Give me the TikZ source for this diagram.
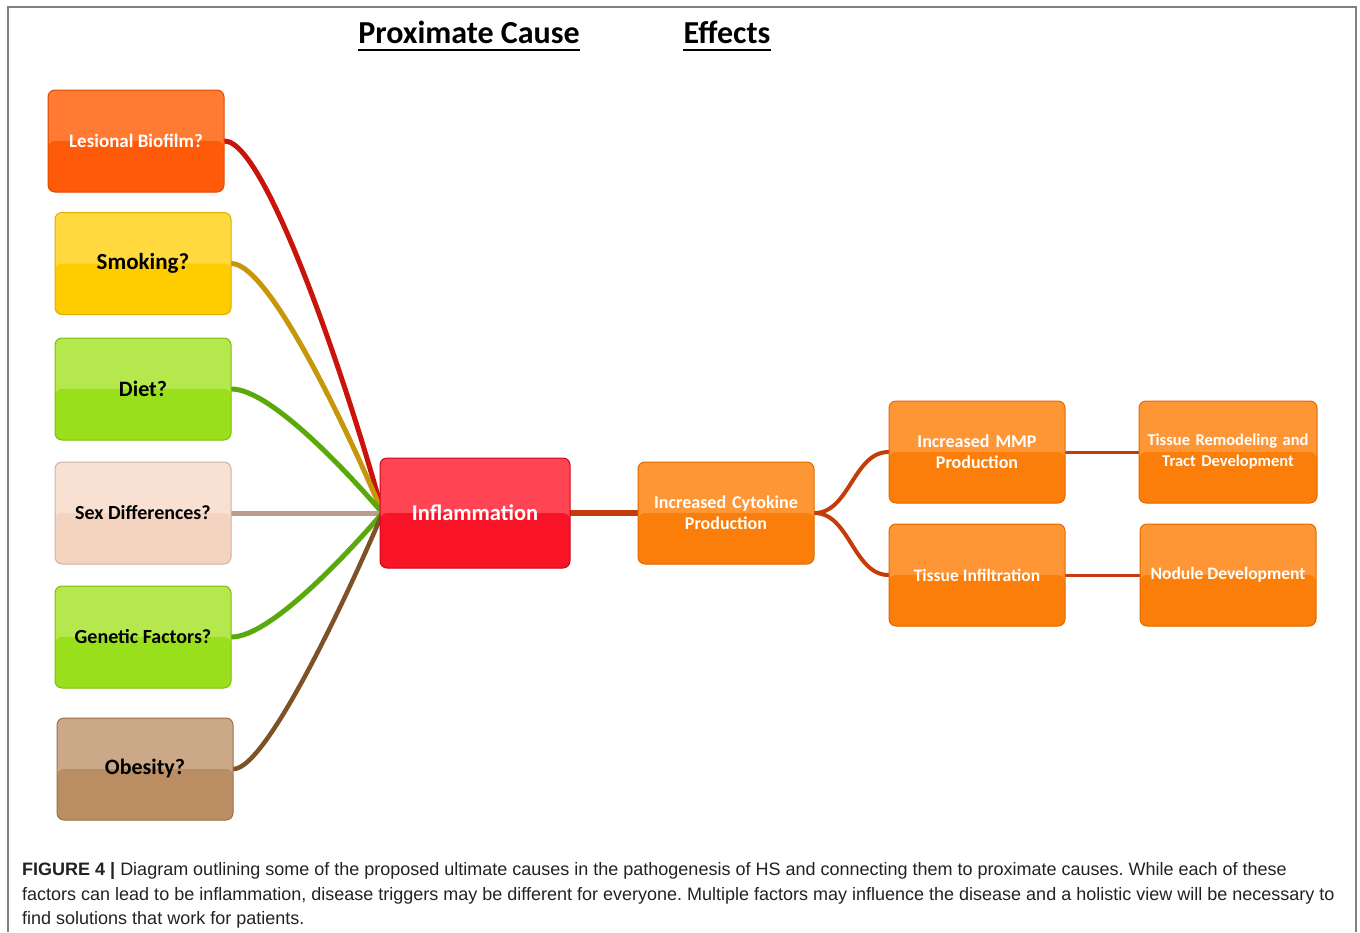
\documentclass[tikz,border=0pt]{standalone}
\usepackage{fontspec}
\setmainfont{Carlito}
\newfontfamily\capfont{Liberation Sans}
\usetikzlibrary{backgrounds}
\frenchspacing
\definecolor{lbT}{HTML}{FF7A33}\definecolor{lbB}{HTML}{FF5A0A}\definecolor{lbD}{HTML}{DD4A00}
\definecolor{smT}{HTML}{FFD93D}\definecolor{smB}{HTML}{FFCC00}\definecolor{smD}{HTML}{DDAE00}
\definecolor{grT}{HTML}{B4E84C}\definecolor{grB}{HTML}{9ADF1C}\definecolor{grD}{HTML}{7EBE10}
\definecolor{sxT}{HTML}{F8E0D2}\definecolor{sxB}{HTML}{F4D3C0}\definecolor{sxD}{HTML}{D2B2A2}
\definecolor{obT}{HTML}{CBA887}\definecolor{obB}{HTML}{BA8E62}\definecolor{obD}{HTML}{9A7048}
\definecolor{inT}{HTML}{FF4454}\definecolor{inB}{HTML}{F81426}\definecolor{inD}{HTML}{C80A18}
\definecolor{orT}{HTML}{FF9636}\definecolor{orB}{HTML}{FC7E0A}\definecolor{orD}{HTML}{E06A00}
\definecolor{lnRed}{HTML}{C8140A}
\definecolor{lnGold}{HTML}{C8960A}
\definecolor{lnGreen}{HTML}{5AA80A}
\definecolor{lnTan}{HTML}{BC9C8A}
\definecolor{lnBrown}{HTML}{7C5226}
\definecolor{lnOrange}{HTML}{C43C0A}
\definecolor{frameGray}{HTML}{808080}
\definecolor{capText}{HTML}{222222}
\tikzset{
  gbox/.style n args={4}{draw=#3, fill=#1, text=#4,
    path picture={\fill[#2] (path picture bounding box.west) rectangle (path picture bounding box.south east);},
    rounded corners=7pt, line width=1pt, minimum width=176pt, minimum height=102pt,
    inner sep=2pt, align=center},
  fs/.style={font=\bfseries\fontsize{#1}{21}\selectfont},
  conn/.style={line width=#1, line cap=round},
  title/.style={font=\bfseries\fontsize{32}{36}\selectfont, inner sep=0pt, anchor=base},
  captext/.style={font=\capfont\fontsize{18}{21}\selectfont, text=capText, anchor=base west, inner sep=0pt}
}
\begin{document}
\begin{tikzpicture}[x=1pt,y=-1pt]
\useasboundingbox (0,0) rectangle (1360,932);
\draw[frameGray, line width=1.5pt] (8,932) -- (8,7) -- (1356,7) -- (1356,932);

% titles
\node[title] (t1) at (469,43) {Proximate Cause};
\node[title] (t2) at (727,43) {Effects};
\draw[line width=1.3pt] ([yshift=-7pt]t1.base west) -- ([yshift=-7pt]t1.base east);
\draw[line width=1.3pt] ([yshift=-7pt]t2.base west) -- ([yshift=-7pt]t2.base east);

% left boxes
\node[gbox={lbT}{lbB}{lbD}{white}, fs=19] (lb) at (136,141) {Lesional Biofilm?};
\node[gbox={smT}{smB}{smD}{black}, fs=23] (sm) at (143,263.5) {Smoking?};
\node[gbox={grT}{grB}{grD}{black}, fs=22] (di) at (143,389) {Diet?};
\node[gbox={sxT}{sxB}{sxD}{black}, fs=20] (sx) at (143,513) {Sex Differences?};
\node[gbox={grT}{grB}{grD}{black}, fs=20] (ge) at (143,637) {Genetic Factors?};
\node[gbox={obT}{obB}{obD}{black}, fs=22] (ob) at (145,769) {Obesity?};

% center
\node[gbox={inT}{inB}{inD}{white}, fs=22.5, minimum width=190pt, minimum height=110pt] (inf) at (475,513) {Inflammation};
\node[gbox={orT}{orB}{orD}{white}, fs=18, text width=172pt] (cy) at (726,513) {Increased Cytokine\\Production};

% right
\node[gbox={orT}{orB}{orD}{white}, fs=18, text width=172pt] (mmp) at (977,452) {Increased MMP\\Production};
\node[gbox={orT}{orB}{orD}{white}, fs=16.5, text width=174pt] (tr) at (1228,452) {Tissue Remodeling and\\Tract Development};
\node[gbox={orT}{orB}{orD}{white}, fs=17.5] (ti) at (977,575) {Tissue Infiltration};
\node[gbox={orT}{orB}{orD}{white}, fs=17.5] (nd) at (1228,575) {Nodule Development};

\begin{scope}[on background layer]
\draw[conn=5pt, lnRed] (lb.east) .. controls +(45,0) and +(-22,-85) .. ([xshift=3pt]inf.west);
\draw[conn=5pt, lnGold] (sm.east) .. controls +(40,0) and +(-25,-60) .. ([xshift=3pt]inf.west);
\draw[conn=5pt, lnGreen] (di.east) .. controls +(40,0) and +(-30,-35) .. ([xshift=3pt]inf.west);
\draw[conn=5pt, lnTan] (sx.east) -- ([xshift=3pt]inf.west);
\draw[conn=5pt, lnGreen] (ge.east) .. controls +(40,0) and +(-30,35) .. ([xshift=3pt]inf.west);
\draw[conn=4.5pt, lnBrown] (ob.east) .. controls +(35,0) and +(-25,60) .. ([xshift=3pt]inf.west);
\draw[conn=5.5pt, lnOrange] (inf.east) -- (cy.west);
\draw[conn=4pt, lnOrange] (cy.east) .. controls +(35,0) and +(-35,0) .. (mmp.west);
\draw[conn=4pt, lnOrange] (cy.east) .. controls +(35,0) and +(-35,0) .. (ti.west);
\draw[conn=3pt, lnOrange] (mmp.east) -- (tr.west);
\draw[conn=3pt, lnOrange] (ti.east) -- (nd.west);
\end{scope}

% caption
\node[captext] (c1) at (22,875) {\textbf{FIGURE 4 |} Diagram outlining some of the proposed ultimate causes in the pathogenesis of HS and connecting them to proximate causes. While each of these};
\node[captext] (c2) at (22,900) {factors can lead to be inflammation, disease triggers may be different for everyone. Multiple factors may influence the disease and a holistic view will be necessary to};
\node[captext] (c3) at (22,924) {find solutions that work for patients.};
\end{tikzpicture}
\end{document}
